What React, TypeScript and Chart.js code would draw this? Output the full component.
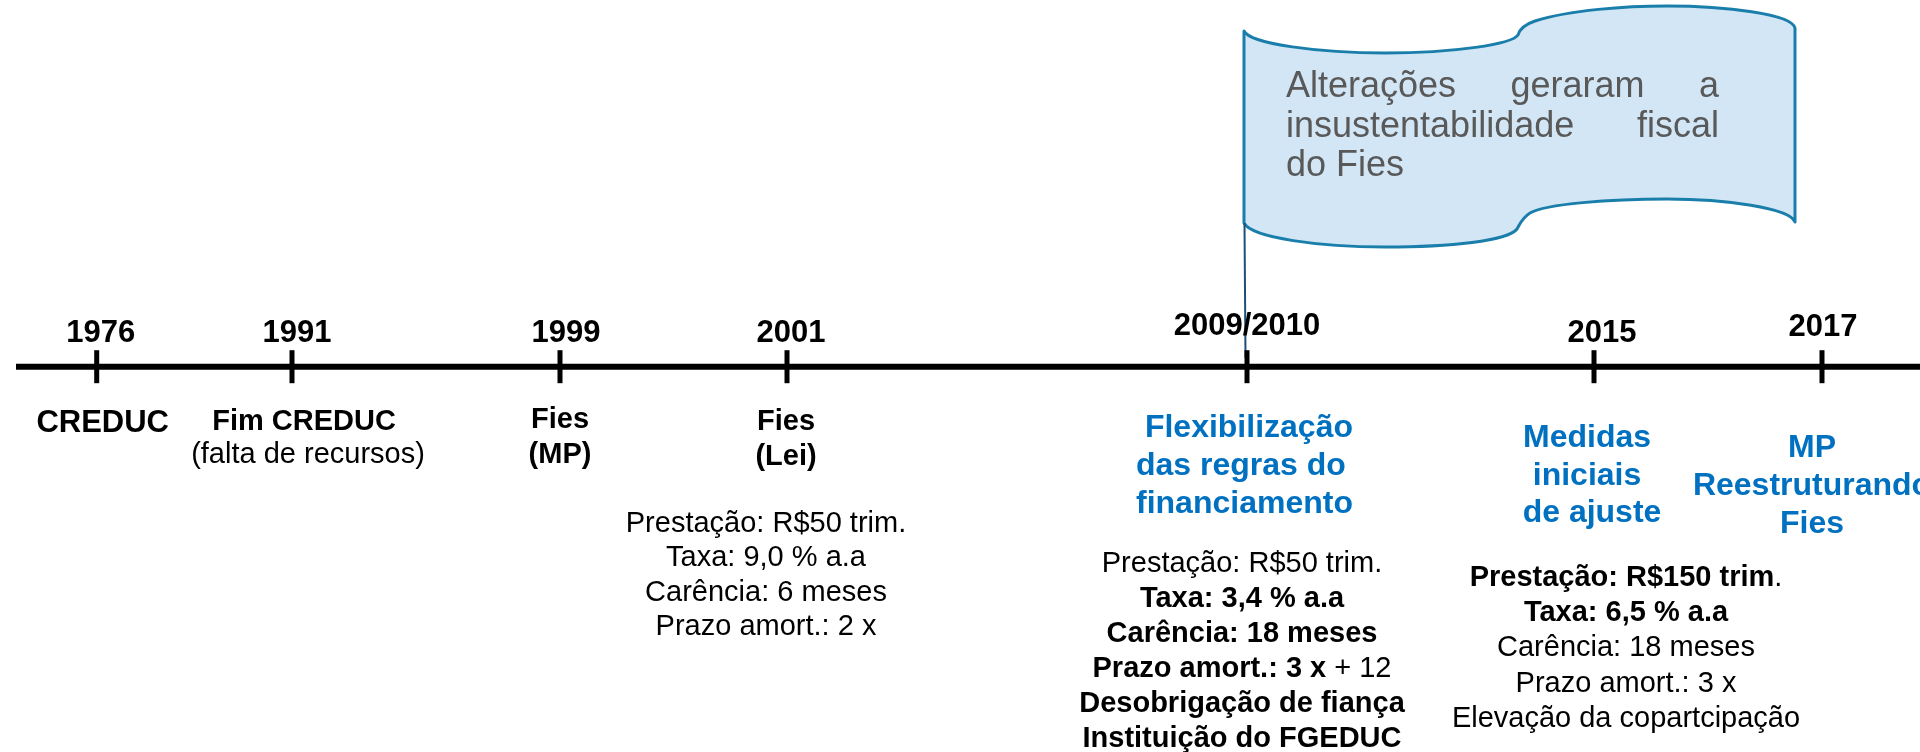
import React, { useEffect, useRef } from "react";
import { Chart, registerables } from "chart.js";

Chart.register(...registerables);

// ---------- DATA ----------
const eventYears = ["1976", "1991", "1999", "2001", "2009/2010", "2015", "2017"];
// position of each event along the timeline (timeline units)
const eventPos = [96.7, 292, 560, 787, 1247, 1594, 1822];
const flagEventIndex = 4;

const eventTitles: string[][] = [
  ["CREDUC"],
  ["Fim CREDUC", "(falta de recursos)"],
  ["Fies", "(MP)"],
  ["Fies", "(Lei)"],
  [" Flexibilização", "das regras do", "financiamento"],
  ["Medidas", "iniciais", "de ajuste"],
  ["MP", "Reestruturando", "Fies"],
];

type Run = { t: string; b?: boolean };
const rules2001: Run[][] = [
  [{ t: "Prestação: R$50 trim." }],
  [{ t: "Taxa: 9,0 % a.a" }],
  [{ t: "Carência: 6 meses" }],
  [{ t: "Prazo amort.: 2 x" }],
];
const rules2009: Run[][] = [
  [{ t: "Prestação: R$50 trim." }],
  [{ t: "Taxa: 3,4 % a.a", b: true }],
  [{ t: "Carência: 18 meses", b: true }],
  [{ t: "Prazo amort.: 3 x", b: true }, { t: " + 12" }],
  [{ t: "Desobrigação de fiança", b: true }],
  [{ t: "Instituição do FGEDUC", b: true }],
];
const rules2015: Run[][] = [
  [{ t: "Prestação: R$150 trim", b: true }, { t: "." }],
  [{ t: "Taxa: 6,5 % a.a", b: true }],
  [{ t: "Carência: 18 meses" }],
  [{ t: "Prazo amort.: 3 x" }],
  [{ t: "Elevação da copartcipação" }],
];
const flagLines = [
  "Alterações geraram a",
  "insustentabilidade fiscal",
  "do Fies",
];

// ---------- LAYOUT / STYLE ----------
const FONT = '"Liberation Sans", Arial, Helvetica, sans-serif';
const BLUE = "#0070C0";
const AXIS_Y = 366.7;
const AXIS_START = 16;
const yearLayout = {
  dx: [4, 5, 6, 4, 0, 8, 1],
  base: [342, 342, 342, 342, 335, 342, 336],
};
const titleLayout = [
  { dx: [6], base: [432], bold: [true], size: [31], color: "#000", align: "center" },
  { dx: [12, 16], base: [430, 463], bold: [true, false], size: [29, 29], color: "#000", align: "center" },
  { dx: [0, 0], base: [428, 463], bold: [true, true], size: [29, 29], color: "#000", align: "center" },
  { dx: [-1, -1], base: [430, 465], bold: [true, true], size: [29, 29], color: "#000", align: "center" },
  { dx: [-111, -111, -111], base: [437, 475, 513], bold: [true, true, true], size: [32, 32, 32], color: BLUE, align: "left" },
  { dx: [-7, -7, -2], base: [447, 485, 522], bold: [true, true, true], size: [32, 32, 32], color: BLUE, align: "center" },
  { dx: [-10, -10, -10], base: [457, 495, 533], bold: [true, true, true], size: [32, 32, 32], color: BLUE, align: "center" },
];
const ruleBlocks = [
  { rules: rules2001, ev: 3, dx: -21, start: 532, lh: 34.4 },
  { rules: rules2009, ev: 4, dx: -5, start: 572, lh: 35 },
  { rules: rules2015, ev: 5, dx: 32, start: 586, lh: 35.2 },
];

function drawRuns(ctx: CanvasRenderingContext2D, runs: Run[], cx: number, y: number, size: number) {
  const fonts = runs.map((r) => `${r.b ? "bold " : ""}${size}px ${FONT}`);
  let total = 0;
  const widths = runs.map((r, i) => {
    ctx.font = fonts[i];
    const w = ctx.measureText(r.t).width;
    total += w;
    return w;
  });
  let x = cx - total / 2;
  ctx.textAlign = "left";
  runs.forEach((r, i) => {
    ctx.font = fonts[i];
    ctx.fillText(r.t, x, y);
    x += widths[i];
  });
}

function drawJustified(ctx: CanvasRenderingContext2D, line: string, left: number, right: number, y: number, justify: boolean) {
  const words = line.split(" ");
  ctx.textAlign = "left";
  if (!justify || words.length < 2) {
    ctx.fillText(line, left, y);
    return;
  }
  const ws = words.map((w) => ctx.measureText(w).width);
  const sum = ws.reduce((a, b) => a + b, 0);
  const gap = (right - left - sum) / (words.length - 1);
  let x = left;
  words.forEach((w, i) => {
    ctx.fillText(w, x, y);
    x += ws[i] + gap;
  });
}

const flagPlugin = {
  id: "flag",
  beforeDatasetsDraw(chart: any) {
    const { ctx, scales } = chart;
    const X = (v: number) => scales.x.getPixelForValue(v);
    const Y = (v: number) => scales.y.getPixelForValue(v);
    ctx.save();
    ctx.beginPath();
    ctx.moveTo(X(1244), Y(31));
    ctx.bezierCurveTo(X(1250), Y(44), X(1320), Y(53), X(1385), Y(53));
    ctx.bezierCurveTo(X(1455), Y(53), X(1512), Y(44), X(1518), Y(35));
    ctx.bezierCurveTo(X(1520), Y(28), X(1526), Y(24), X(1535), Y(21));
    ctx.bezierCurveTo(X(1570), Y(10), X(1625), Y(6), X(1667), Y(6));
    ctx.bezierCurveTo(X(1725), Y(6), X(1792), Y(14), X(1795), Y(28));
    ctx.lineTo(X(1795), Y(222));
    ctx.bezierCurveTo(X(1790), Y(208), X(1725), Y(199), X(1667), Y(199));
    ctx.bezierCurveTo(X(1610), Y(199), X(1545), Y(204), X(1530), Y(213));
    ctx.bezierCurveTo(X(1522), Y(218), X(1520), Y(224), X(1517), Y(229));
    ctx.bezierCurveTo(X(1508), Y(241), X(1450), Y(247), X(1385), Y(247));
    ctx.bezierCurveTo(X(1320), Y(247), X(1252), Y(238), X(1244), Y(223));
    ctx.closePath();
    ctx.fillStyle = "#D3E6F5";
    ctx.fill();
    ctx.lineWidth = 3;
    ctx.strokeStyle = "#1A7EAB";
    ctx.lineJoin = "round";
    ctx.stroke();

    ctx.fillStyle = "#595959";
    ctx.font = `36px ${FONT}`;
    ctx.textBaseline = "alphabetic";
    flagLines.forEach((ln, i) => {
      drawJustified(ctx, ln, X(1286), X(1719), Y(97 + i * 39.5), i < flagLines.length - 1);
    });
    ctx.restore();
  },
};

const textPlugin = {
  id: "timelineText",
  afterDatasetsDraw(chart: any) {
    const { ctx, scales } = chart;
    const X = (v: number) => scales.x.getPixelForValue(v);
    const Y = (v: number) => scales.y.getPixelForValue(v);
    ctx.save();
    ctx.textBaseline = "alphabetic";
    // years
    ctx.fillStyle = "#000";
    ctx.font = `bold 31px ${FONT}`;
    ctx.textAlign = "center";
    eventYears.forEach((yr, i) => {
      ctx.fillText(yr, X(eventPos[i] + yearLayout.dx[i]), Y(yearLayout.base[i]));
    });
    // titles
    eventTitles.forEach((lines, i) => {
      const L: any = titleLayout[i];
      ctx.fillStyle = L.color;
      ctx.textAlign = L.align;
      lines.forEach((ln, j) => {
        ctx.font = `${L.bold[j] ? "bold " : ""}${L.size[j]}px ${FONT}`;
        ctx.fillText(ln, X(eventPos[i] + L.dx[j]), Y(L.base[j]));
      });
    });
    // rule blocks
    ctx.fillStyle = "#000";
    ruleBlocks.forEach((blk) => {
      blk.rules.forEach((runs, j) => {
        drawRuns(ctx, runs, X(eventPos[blk.ev] + blk.dx), Y(blk.start + j * blk.lh), 29);
      });
    });
    ctx.restore();
  },
};

export default function App() {
  const ref = useRef<HTMLCanvasElement | null>(null);
  useEffect(() => {
    document.body.style.margin = "0";
    const canvas = ref.current!;
    const chart = new Chart(canvas, {
      type: "scatter",
      data: {
        datasets: [
          {
            type: "line",
            data: [
              { x: AXIS_START, y: AXIS_Y },
              { x: 1920, y: AXIS_Y },
            ],
            borderColor: "#000",
            borderWidth: 6,
            pointRadius: 0,
          } as any,
          {
            data: eventPos.map((p) => ({ x: p, y: AXIS_Y })),
            pointStyle: "line",
            rotation: 90,
            radius: 16.5,
            borderWidth: 5,
            borderColor: "#000",
            backgroundColor: "#000",
          } as any,
          {
            type: "line",
            data: [
              { x: eventPos[flagEventIndex] - 2.5, y: 223 },
              { x: eventPos[flagEventIndex] - 1.5, y: 358 },
            ],
            borderColor: "#1F4E79",
            borderWidth: 2,
            pointRadius: 0,
          } as any,
        ],
      },
      options: {
        animation: false,
        responsive: false,
        maintainAspectRatio: false,
        events: [],
        layout: { padding: 0, autoPadding: false },
        plugins: { legend: { display: false }, tooltip: { enabled: false } },
        scales: {
          x: { type: "linear", min: 0, max: 1920, display: false },
          y: { type: "linear", min: 0, max: 752, reverse: true, display: false },
        },
      },
      plugins: [flagPlugin, textPlugin],
    });
    return () => chart.destroy();
  }, []);
  return (
    <div style={{ width: 1920, height: 752, background: "#fff" }}>
      <canvas ref={ref} width={1920} height={752} style={{ display: "block" }} />
    </div>
  );
}
